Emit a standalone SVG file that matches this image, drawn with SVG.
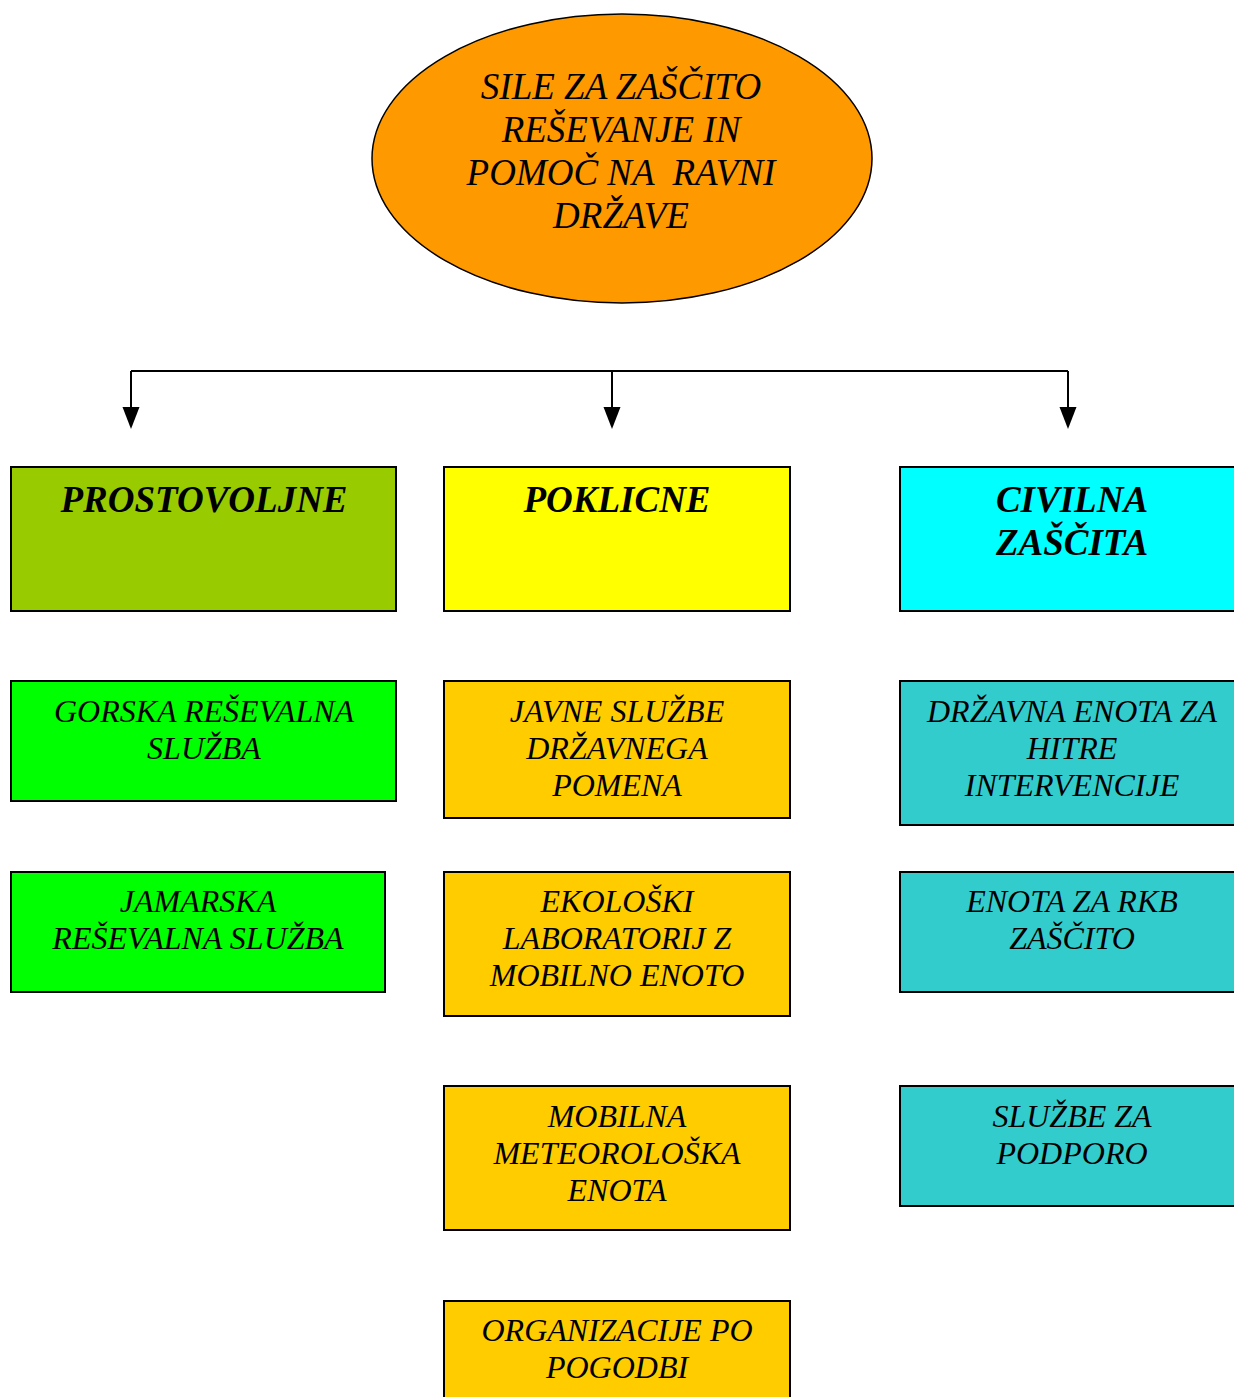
<svg xmlns="http://www.w3.org/2000/svg" width="1234" height="1397" viewBox="0 0 1234 1397">
<style>
.t{font-family:"Liberation Serif","Times New Roman",serif;font-style:italic;font-size:32px;text-anchor:middle;fill:#000}
.e{font-size:37px}
.h{font-family:"Liberation Serif","Times New Roman",serif;font-style:italic;font-weight:bold;font-size:37px;text-anchor:middle;fill:#000}
.box{stroke:#000;stroke-width:2}
.conn{stroke:#000;stroke-width:2;fill:none}
.head{fill:#000}
</style>
<rect width="1234" height="1397" fill="#fff"/>
<g id="connectors">
<path class="conn" d="M131,371 H1068"/>
<path class="conn" d="M131,371 V408"/>
<path class="conn" d="M612,371 V408"/>
<path class="conn" d="M1068,371 V408"/>
<path class="head" d="M122.5,407 L139.5,407 L131,429 Z"/>
<path class="head" d="M603.5,407 L620.5,407 L612,429 Z"/>
<path class="head" d="M1059.5,407 L1076.5,407 L1068,429 Z"/>
</g>
<g id="root">
<ellipse cx="622" cy="158.5" rx="250" ry="144.5" fill="#FF9900" stroke="#000" stroke-width="1.5"/>
<text class="t e" x="621" y="99">SILE ZA ZAŠČITO</text>
<text class="t e" x="621" y="142">REŠEVANJE IN</text>
<text class="t e" x="621" y="185" xml:space="preserve">POMOČ NA  RAVNI</text>
<text class="t e" x="621" y="228">DRŽAVE</text>
</g>
<g id="prostovoljne">
<rect class="box" x="11" y="467" width="385" height="144" fill="#99CC00"/>
<text class="h" x="204" y="512">PROSTOVOLJNE</text>
</g>
<g id="poklicne">
<rect class="box" x="444" y="467" width="346" height="144" fill="#FFFF00"/>
<text class="h" x="617" y="512">POKLICNE</text>
</g>
<g id="civilna">
<rect class="box" x="900" y="467" width="346" height="144" fill="#00FFFF"/>
<text class="h" x="1072" y="512">CIVILNA</text>
<text class="h" x="1072" y="555">ZAŠČITA</text>
</g>
<g id="gorska">
<rect class="box" x="11" y="681" width="385" height="120" fill="#00FF00"/>
<text class="t" x="204" y="722">GORSKA REŠEVALNA</text>
<text class="t" x="204" y="759">SLUŽBA</text>
</g>
<g id="jamarska">
<rect class="box" x="11" y="872" width="374" height="120" fill="#00FF00"/>
<text class="t" x="198" y="912">JAMARSKA</text>
<text class="t" x="198" y="949">REŠEVALNA SLUŽBA</text>
</g>
<g id="javne">
<rect class="box" x="444" y="681" width="346" height="137" fill="#FFCC00"/>
<text class="t" x="617" y="722">JAVNE SLUŽBE</text>
<text class="t" x="617" y="759">DRŽAVNEGA</text>
<text class="t" x="617" y="796">POMENA</text>
</g>
<g id="ekoloski">
<rect class="box" x="444" y="872" width="346" height="144" fill="#FFCC00"/>
<text class="t" x="617" y="912">EKOLOŠKI</text>
<text class="t" x="617" y="949">LABORATORIJ Z</text>
<text class="t" x="617" y="986">MOBILNO ENOTO</text>
</g>
<g id="mobilna">
<rect class="box" x="444" y="1086" width="346" height="144" fill="#FFCC00"/>
<text class="t" x="617" y="1127">MOBILNA</text>
<text class="t" x="617" y="1164">METEOROLOŠKA</text>
<text class="t" x="617" y="1201">ENOTA</text>
</g>
<g id="organizacije">
<rect class="box" x="444" y="1301" width="346" height="120" fill="#FFCC00"/>
<text class="t" x="617" y="1341">ORGANIZACIJE PO</text>
<text class="t" x="617" y="1378">POGODBI</text>
</g>
<g id="drzavna">
<rect class="box" x="900" y="681" width="346" height="144" fill="#33CCCC"/>
<text class="t" x="1072" y="722">DRŽAVNA ENOTA ZA</text>
<text class="t" x="1072" y="759">HITRE</text>
<text class="t" x="1072" y="796">INTERVENCIJE</text>
</g>
<g id="rkb">
<rect class="box" x="900" y="872" width="346" height="120" fill="#33CCCC"/>
<text class="t" x="1072" y="912">ENOTA ZA RKB</text>
<text class="t" x="1072" y="949">ZAŠČITO</text>
</g>
<g id="podpora">
<rect class="box" x="900" y="1086" width="346" height="120" fill="#33CCCC"/>
<text class="t" x="1072" y="1127">SLUŽBE ZA</text>
<text class="t" x="1072" y="1164">PODPORO</text>
</g>
</svg>
